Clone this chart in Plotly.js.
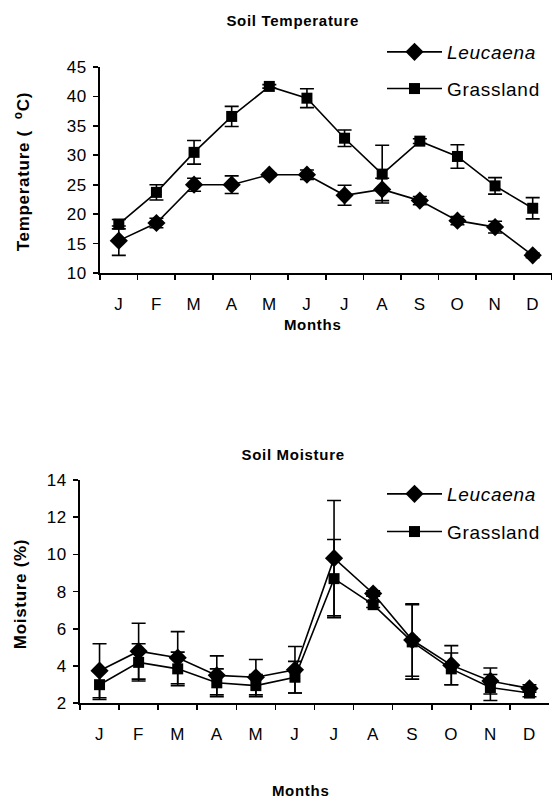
<!DOCTYPE html>
<html>
<head>
<meta charset="utf-8">
<script src="https://cdn.plot.ly/plotly-3.0.1.min.js"></script>
<style>
html,body{margin:0;padding:0;background:#fff;}
#chart{width:554px;height:808px;}
#chart svg text{letter-spacing:0.7px;}
</style>
</head>
<body>
<div id="chart"></div>
<script>
// Categories
const months = ['Jan','Feb','Mar','Apr','May','Jun','Jul','Aug','Sep','Oct','Nov','Dec'];
const monthLabels = ['J','F','M','A','M','J','J','A','S','O','N','D'];

// Soil temperature (°C)
const tempLeucaena    = [15.5, 18.5, 25.0, 25.0, 26.7, 26.7, 23.2, 24.2, 22.3, 18.9, 17.8, 13.0];
const tempLeucaenaErr = [2.5, 0.8, 1.1, 1.5, 0.3, 0.8, 1.7, 1.9, 0.7, 0.7, 1.0, 0.4];
const tempGrass       = [18.3, 23.7, 30.5, 36.6, 41.7, 39.7, 32.9, 26.8, 32.4, 29.8, 24.8, 21.0];
const tempGrassErr    = [0.8, 1.3, 2.0, 1.7, 0.3, 1.6, 1.4, 4.9, 0.4, 2.0, 1.4, 1.8];

// Soil moisture (%)
const moistLeucaena    = [3.75, 4.8, 4.45, 3.5, 3.4, 3.8, 9.8, 7.9, 5.4, 4.05, 3.2, 2.8];
const moistLeucaenaErr = [1.45, 1.5, 1.4, 1.05, 0.95, 1.25, 3.1, 0.15, 1.95, 1.05, 0.7, 0.2];
const moistGrass       = [3.0, 4.2, 3.85, 3.1, 2.95, 3.4, 8.7, 7.3, 5.3, 3.85, 2.85, 2.55];
const moistGrassErr    = [0.8, 1.0, 0.9, 0.75, 0.6, 0.85, 2.1, 0.15, 2.0, 0.85, 0.7, 0.2];

const FONT = 'Liberation Sans, Arial, sans-serif';
const BLACK = '#000000';

function series(x, y, err, name, symbol, size, xa, ya, leg, grp) {
  return {
    type: 'scatter', mode: 'lines+markers',
    x: x, y: y, name: name,
    xaxis: xa, yaxis: ya, legend: leg, legendgroup: grp,
    line: {color: BLACK, width: 1.6},
    marker: {symbol: symbol, size: size, color: BLACK},
    error_y: {type: 'data', array: err, visible: true, color: BLACK, thickness: 1.6, width: 7},
    cliponaxis: false
  };
}

const data = [
  series(months, tempLeucaena, tempLeucaenaErr, '<i>Leucaena</i>', 'diamond', 14, 'x', 'y', 'legend', 'a'),
  series(months, tempGrass, tempGrassErr, 'Grassland', 'square', 11, 'x', 'y', 'legend', 'b'),
  series(months, moistLeucaena, moistLeucaenaErr, '<i>Leucaena</i>', 'diamond', 14, 'x2', 'y2', 'legend2', 'c'),
  series(months, moistGrass, moistGrassErr, 'Grassland', 'square', 11, 'x2', 'y2', 'legend2', 'd')
];

const xCommon = {
  type: 'category', categoryorder: 'array', categoryarray: months,
  tickmode: 'array', tickvals: months, ticktext: monthLabels,
  tickson: 'boundaries', ticks: 'outside', ticklen: 5, tickwidth: 1.6, tickcolor: BLACK,
  showline: true, linecolor: BLACK, linewidth: 1.6, showgrid: false, zeroline: false,
  tickfont: {family: FONT, size: 17, color: BLACK}, ticklabelstandoff: 15,
  range: [-0.5, 11.5], fixedrange: true, automargin: false
};
const yCommon = {
  ticks: 'outside', ticklen: 5, tickwidth: 1.6, tickcolor: BLACK,
  showline: true, linecolor: BLACK, linewidth: 1.6, showgrid: false, zeroline: false,
  tickfont: {family: FONT, size: 17, color: BLACK}, ticklabelstandoff: 3,
  fixedrange: true, automargin: false
};

const titleFont = {family: FONT, size: 15, color: BLACK, weight: 'bold'};
const axTitleFont = {family: FONT, size: 17, color: BLACK, weight: 'bold'};
const monthsFont = {family: FONT, size: 15, color: BLACK, weight: 'bold'};

const layout = {
  width: 554, height: 808,
  margin: {l: 0, r: 0, t: 0, b: 0},
  paper_bgcolor: '#ffffff', plot_bgcolor: '#ffffff',
  font: {family: FONT, color: BLACK},
  showlegend: true,
  xaxis: Object.assign({}, xCommon, {domain: [0.1805, 0.9955], anchor: 'y'}),
  yaxis: Object.assign({}, yCommon, {domain: [0.6621, 0.9171], range: [10, 45], dtick: 5, anchor: 'x'}),
  xaxis2: Object.assign({}, xCommon, {domain: [0.1444, 0.9910], anchor: 'y2'}),
  yaxis2: Object.assign({}, yCommon, {domain: [0.1296, 0.4059], range: [2, 14], dtick: 2, anchor: 'x2'}),
  legend: {
    x: 382/554, y: 1 - 33/808, xanchor: 'left', yanchor: 'top', itemwidth: 55,
    font: {family: FONT, size: 19, color: BLACK}, tracegroupgap: 9,
    bgcolor: 'rgba(0,0,0,0)', borderwidth: 0, itemclick: false
  },
  legend2: {
    x: 382/554, y: 1 - 475/808, xanchor: 'left', yanchor: 'top', itemwidth: 55,
    font: {family: FONT, size: 19, color: BLACK}, tracegroupgap: 10,
    bgcolor: 'rgba(0,0,0,0)', borderwidth: 0, itemclick: false
  },
  annotations: [
    {text: 'Soil Temperature', x: 292/554, y: 1 - 20/808, xref: 'paper', yref: 'paper', showarrow: false, xanchor: 'center', yanchor: 'middle', font: titleFont},
    {text: 'Temperature (\u00A0\u00A0<sup>o</sup>C)', x: 22/554, y: 1 - 172/808, xref: 'paper', yref: 'paper', showarrow: false, textangle: -90, xanchor: 'center', yanchor: 'middle', font: axTitleFont},
    {text: 'Months', x: 312/554, y: 1 - 324/808, xref: 'paper', yref: 'paper', showarrow: false, xanchor: 'center', yanchor: 'middle', font: monthsFont},
    {text: 'Soil Moisture', x: 293/554, y: 1 - 455/808, xref: 'paper', yref: 'paper', showarrow: false, xanchor: 'center', yanchor: 'middle', font: titleFont},
    {text: 'Moisture (%)', x: 20/554, y: 1 - 594/808, xref: 'paper', yref: 'paper', showarrow: false, textangle: -90, xanchor: 'center', yanchor: 'middle', font: axTitleFont},
    {text: 'Months', x: 300/554, y: 1 - 790/808, xref: 'paper', yref: 'paper', showarrow: false, xanchor: 'center', yanchor: 'middle', font: monthsFont}
  ]
};

Plotly.newPlot('chart', data, layout, {displayModeBar: false, staticPlot: true});
</script>
</body>
</html>
